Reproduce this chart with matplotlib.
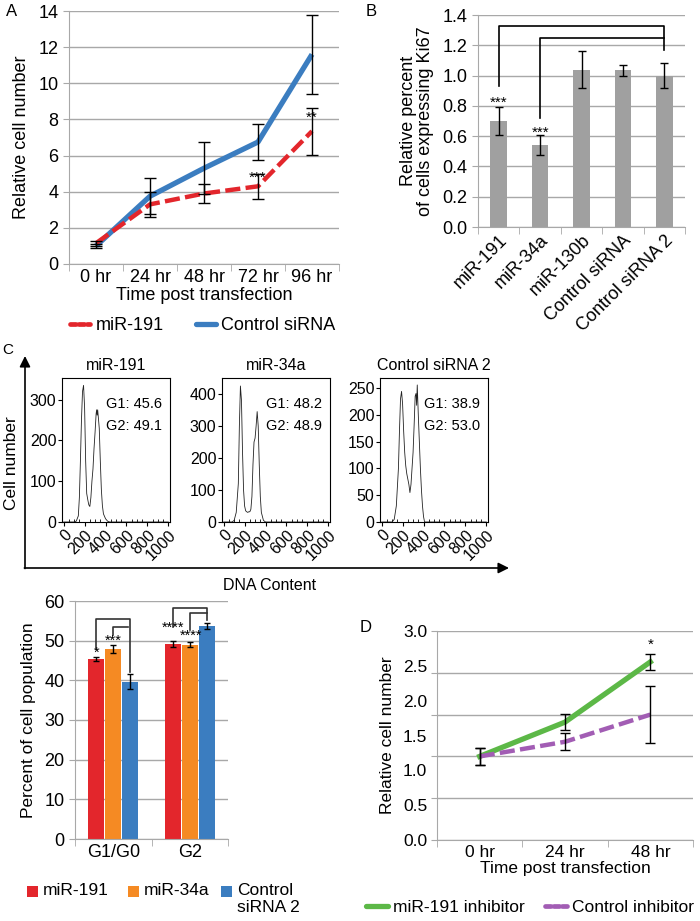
import matplotlib
matplotlib.use('Agg')
import matplotlib.pyplot as plt
import numpy as np
from matplotlib.lines import Line2D
from matplotlib.patches import Rectangle

plt.rcParams['font.family'] = ['Liberation Sans', 'DejaVu Sans']

# ---------------- data ----------------
# Panel A
timesA = ['0 hr', '24 hr', '48 hr', '72 hr', '96 hr']
a_mir191 = [1.15, 3.3, 3.9, 4.3, 7.35]
a_mir191_err = [0.15, 0.7, 0.55, 0.7, 1.3]
a_ctrl = [1.0, 3.75, 5.3, 6.75, 11.6]
a_ctrl_err = [0.1, 1.0, 1.45, 1.0, 2.2]
a_stars = ['', '', '', '***', '**']
a_star_y = [0, 0, 0, 4.75, 8.1]

# Panel B
catsB = ['miR-191', 'miR-34a', 'miR-130b', 'Control siRNA', 'Control siRNA 2']
b_vals = [0.70, 0.54, 1.04, 1.035, 1.0]
b_err = [0.09, 0.065, 0.12, 0.035, 0.085]

# Panel C histograms (DNA content, cell number)
h1_x = [0, 100, 120, 140, 150, 160, 170, 180, 190, 200, 210, 220, 230, 240, 250, 260, 270, 280,
        290, 300, 310, 315, 320, 325, 330, 340, 350, 360, 370, 380, 400, 420, 440, 1000]
h1_y = [0, 0, 2, 15, 60, 150, 250, 320, 335, 280, 150, 70, 55, 42, 38, 60, 100, 130,
        180, 220, 265, 275, 262, 275, 260, 230, 150, 80, 40, 20, 8, 2, 0, 0]
h2_x = [0, 80, 100, 120, 140, 150, 160, 170, 180, 190, 200, 210, 220, 230, 240, 250, 260, 270,
        280, 290, 300, 310, 320, 330, 340, 350, 360, 380, 400, 1000]
h2_y = [0, 0, 5, 30, 120, 300, 425, 380, 220, 100, 50, 35, 32, 30, 32, 32, 40, 80,
        180, 250, 262, 300, 345, 300, 180, 80, 30, 5, 0, 0]
h3_x = [0, 100, 120, 140, 160, 170, 180, 190, 200, 210, 220, 230, 240, 250, 260, 270, 280, 290,
        300, 310, 320, 328, 334, 340, 350, 360, 370, 380, 390, 400, 410, 1000]
h3_y = [0, 0, 5, 30, 100, 170, 230, 244, 220, 170, 130, 105, 90, 80, 70, 55, 70, 100,
        130, 180, 235, 240, 218, 256, 200, 150, 100, 60, 30, 10, 0, 0]
hist_titles = ['miR-191', 'miR-34a', 'Control siRNA 2']
hist_g1 = ['G1: 45.6', 'G1: 48.2', 'G1: 38.9']
hist_g2 = ['G2: 49.1', 'G2: 48.9', 'G2: 53.0']
hist_ymax = [353, 450, 269]
hist_yticks = [[0, 100, 200, 300], [0, 100, 200, 300, 400], [0, 50, 100, 150, 200, 250]]

# Cell cycle bar chart
catsC = ['G1/G0', 'G2']
c_mir191 = [45.4, 49.2]
c_mir191_err = [0.4, 0.8]
c_mir34a = [47.8, 49.0]
c_mir34a_err = [1.0, 0.7]
c_ctrl = [39.6, 53.7]
c_ctrl_err = [1.9, 0.8]

# Panel D
timesD = ['0 hr', '24 hr', '48 hr']
d_inh = [1.0, 1.41, 2.13]
d_inh_err = [0.1, 0.1, 0.1]
d_ctrl = [1.0, 1.175, 1.5]
d_ctrl_err = [0.1, 0.1, 0.34]
d_ylabels = ['0.0', '0.5', '1.0', '1.5', '2.0', '2.5', '3.0']

# ---------------- figure ----------------
W, H = 700, 921
fig = plt.figure(figsize=(7, 9.21), dpi=100)


def add_ax(l, t, r, b):
    return fig.add_axes([l / W, 1 - b / H, (r - l) / W, (b - t) / H])


GRID = '#a8a8a8'
RED = '#e3262c'
BLUE = '#3b7dc0'
ORANGE = '#f58a23'
GREEN = '#5cb847'
PURPLE = '#a25db4'
FS = 13


def excel_style(ax):
    for s in ['top', 'right']:
        ax.spines[s].set_visible(False)
    ax.spines['left'].set_color(GRID)
    ax.spines['bottom'].set_color(GRID)
    ax.yaxis.grid(True, color=GRID, lw=1)
    ax.set_axisbelow(True)
    ax.tick_params(axis='y', colors=GRID, labelcolor='black', length=4, labelsize=FS)
    ax.tick_params(axis='x', which='major', length=0, labelsize=FS)
    ax.tick_params(axis='x', which='minor', colors=GRID, length=5)


# overlay for letters/arrows
axO = fig.add_axes([0, 0, 1, 1])
axO.set_xlim(0, W)
axO.set_ylim(H, 0)
axO.axis('off')

# ---- Panel A ----
axA = add_ax(69, 11, 339, 264)
excel_style(axA)
xA = np.arange(len(timesA))
axA.plot(xA, a_ctrl, color=BLUE, lw=3.8, zorder=3, solid_capstyle='butt')
axA.plot(xA, a_mir191, color=RED, lw=3.2, dashes=(3.4, 1.2), zorder=3)
axA.errorbar(xA, a_ctrl, yerr=a_ctrl_err, fmt='none', ecolor='black', elinewidth=1, capsize=4, capthick=1, zorder=4)
axA.errorbar(xA, a_mir191, yerr=a_mir191_err, fmt='none', ecolor='black', elinewidth=1, capsize=4, capthick=1, zorder=4)
for xi, s, yy in zip(xA, a_stars, a_star_y):
    if s:
        axA.text(xi, yy, s, ha='center', va='center', fontsize=11)
axA.set_xlim(-0.5, 4.5)
axA.set_ylim(0, 14)
axA.set_yticks(np.arange(0, 15, 2))
axA.set_xticks(xA)
axA.set_xticklabels(timesA)
axA.set_xticks(np.arange(-0.5, 5, 1), minor=True)
axA.set_xlabel('Time post transfection', fontsize=FS, labelpad=1)
axA.set_ylabel('Relative cell number', fontsize=FS, labelpad=6)
hA = [Line2D([], [], color=RED, lw=3.4, dashes=(1.2, 0.6), solid_capstyle='round', dash_capstyle='round'),
      Line2D([], [], color=BLUE, lw=3.8, solid_capstyle='round')]
fig.legend(hA, ['miR-191', 'Control siRNA'], loc='center', bbox_to_anchor=(203 / W, 1 - 326 / H),
           ncol=2, frameon=False, fontsize=FS, handlelength=1.1, handletextpad=0.3, columnspacing=1.8,
           borderpad=0, borderaxespad=0)

# ---- Panel B ----
axB = add_ax(478, 15, 685, 227)
excel_style(axB)
xB = np.arange(len(catsB))
axB.bar(xB, b_vals, width=0.4, color='#a0a0a0', zorder=2)
axB.errorbar(xB, b_vals, yerr=b_err, fmt='none', ecolor='black', elinewidth=1, capsize=3, capthick=1, zorder=3)
axB.set_xlim(-0.5, 4.5)
axB.set_ylim(0, 1.4)
axB.set_yticks(np.arange(0, 1.41, 0.2))
axB.set_yticklabels([f'{v:.1f}' for v in np.arange(0, 1.41, 0.2)])
axB.set_xticks(xB)
axB.set_xticklabels(catsB, rotation=45, ha='right', rotation_mode='anchor')
axB.set_xticks(np.arange(-0.5, 5, 1), minor=True)
axB.set_ylabel('Relative percent\nof cells expressing Ki67', fontsize=FS, labelpad=6, linespacing=1.0)
# brackets
axB.plot([0, 0, 4, 4], [0.93, 1.33, 1.33, 1.17], color='black', lw=1.2, clip_on=False)
axB.plot([1, 1, 4], [0.72, 1.246, 1.246], color='black', lw=1.2, clip_on=False)
axB.text(0, 0.82, '***', ha='center', va='center', fontsize=11)
axB.text(1, 0.625, '***', ha='center', va='center', fontsize=11)

# ---- Panel C histograms ----
hx = [h1_x, h2_x, h3_x]
hy = [h1_y, h2_y, h3_y]
lefts = [62, 222, 380]
for i in range(3):
    ax = add_ax(lefts[i], 378, lefts[i] + 108, 522)
    ax.plot(hx[i], hy[i], color='#222222', lw=0.6)
    ax.set_xlim(-16, 1016)
    ax.set_ylim(0, hist_ymax[i])
    ax.set_xticks(np.arange(0, 1001, 200))
    ax.set_xticks(np.arange(0, 1001, 50), minor=True)
    ax.set_yticks(hist_yticks[i])
    ax.set_xticklabels([str(v) for v in range(0, 1001, 200)], rotation=45, ha='right', rotation_mode='anchor')
    ax.tick_params(axis='both', which='major', direction='out', length=3, labelsize=11.5, pad=1)
    ax.tick_params(axis='x', which='minor', direction='in', length=2)
    for s in ax.spines.values():
        s.set_linewidth(0.8)
    ax.set_title(hist_titles[i], fontsize=11.5, pad=6)
    ax.text(0.93, 0.82, hist_g1[i], transform=ax.transAxes, ha='right', va='center', fontsize=10.5)
    ax.text(0.93, 0.67, hist_g2[i], transform=ax.transAxes, ha='right', va='center', fontsize=10.5)

axO.annotate('', xy=(25, 356), xytext=(25, 568.5),
             arrowprops=dict(arrowstyle='-|>', color='black', lw=1.2, mutation_scale=16, shrinkA=0, shrinkB=0))
axO.annotate('', xy=(509, 568), xytext=(24.4, 568),
             arrowprops=dict(arrowstyle='-|>', color='black', lw=1.2, mutation_scale=16, shrinkA=0, shrinkB=0))
axO.text(12, 463, 'Cell number', rotation=90, ha='center', va='center', fontsize=12.5)
axO.text(270, 585, 'DNA Content', ha='center', va='center', fontsize=11.5)

# ---- Cell-cycle bar chart ----
axC = add_ax(75, 601, 228, 839)
excel_style(axC)
xC = np.arange(len(catsC))
off = 0.222
bw = 0.215
axC.bar(xC - off, c_mir191, width=bw, color=RED, zorder=2)
axC.bar(xC, c_mir34a, width=bw, color=ORANGE, zorder=2)
axC.bar(xC + off, c_ctrl, width=bw, color=BLUE, zorder=2)
axC.errorbar(xC - off, c_mir191, yerr=c_mir191_err, fmt='none', ecolor='black', elinewidth=1, capsize=2.5, capthick=1, zorder=3)
axC.errorbar(xC, c_mir34a, yerr=c_mir34a_err, fmt='none', ecolor='black', elinewidth=1, capsize=2.5, capthick=1, zorder=3)
axC.errorbar(xC + off, c_ctrl, yerr=c_ctrl_err, fmt='none', ecolor='black', elinewidth=1, capsize=2.5, capthick=1, zorder=3)
axC.set_xlim(-0.5, 1.5)
axC.set_ylim(0, 60)
axC.set_yticks(np.arange(0, 61, 10))
axC.set_xticks(xC)
axC.set_xticklabels(catsC)
axC.set_xticks([-0.5, 0.5, 1.5], minor=True)
axC.set_ylabel('Percent of cell population', fontsize=12.5, labelpad=6)
bk = dict(color='#333333', lw=1.2, clip_on=False)
axC.plot([-off, -off, off, off], [48.0, 55.4, 55.4, 42.0], **bk)
axC.plot([0, 0, off - 0.03], [51.4, 53.5, 53.5], **bk)
axC.plot([1 - off, 1 - off, 1 + off, 1 + off], [53.5, 58.3, 58.3, 55.3], **bk)
axC.plot([1, 1, 1 + off], [52.7, 56.9, 56.9], **bk)
axC.text(-off, 47.0, '*', ha='center', va='center', fontsize=10.5)
axC.text(0, 50.0, '***', ha='center', va='center', fontsize=10.5)
axC.text(1 - off, 53.3, '****', ha='center', va='center', fontsize=10.5)
axC.text(1 + 0.02, 51.2, '****', ha='center', va='center', fontsize=10.5)

# manual legend for bar chart
leg_items = [(27, RED, 'miR-191'), (128, ORANGE, 'miR-34a'), (221, BLUE, 'Control\nsiRNA 2')]
for lx, col, lab in leg_items:
    axO.add_patch(Rectangle((lx, 885.5), 10.5, 11, color=col, lw=0))
    axO.text(lx + 16, 883, lab, ha='left', va='top', fontsize=12.5, linespacing=1.2)

# ---- Panel D ----
axD = add_ax(437, 631, 693, 840)
excel_style(axD)
xD = np.arange(len(timesD))
axD.plot(xD, d_inh, color=GREEN, lw=3.8, zorder=3)
axD.plot(xD, d_ctrl, color=PURPLE, lw=3.2, dashes=(3.4, 1.2), zorder=3)
axD.errorbar(xD, d_inh, yerr=d_inh_err, fmt='none', ecolor='black', elinewidth=1, capsize=3.5, capthick=1, zorder=4)
axD.errorbar(xD, d_ctrl, yerr=d_ctrl_err, fmt='none', ecolor='black', elinewidth=1, capsize=3.5, capthick=1, zorder=4)
axD.text(2, 2.33, '*', ha='center', va='center', fontsize=11)
axD.set_xlim(-0.5, 2.5)
axD.set_ylim(0, 2.5)
axD.yaxis.remove_overlapping_locs = False
axD.set_yticks(np.arange(0, 2.51, 0.5))
axD.set_yticklabels([])
axD.set_yticks(np.linspace(0, 2.5, 7), minor=True)
axD.set_yticklabels(d_ylabels, minor=True)
axD.tick_params(axis='y', which='minor', length=0, labelsize=12.5, pad=7)
axD.set_xticks(xD)
axD.set_xticklabels(timesD)
axD.tick_params(axis='x', which='major', labelsize=12.5)
axD.set_xticks(np.arange(-0.5, 3, 1), minor=True)
axD.set_xlabel('Time post transfection', fontsize=12.5, labelpad=1)
axD.set_ylabel('Relative cell number', fontsize=12.5, labelpad=6)
hD = [Line2D([], [], color=GREEN, lw=3.8, solid_capstyle='round'),
      Line2D([], [], color=PURPLE, lw=3.4, dashes=(1.2, 0.6), dash_capstyle='round')]
fig.legend(hD, ['miR-191 inhibitor', 'Control inhibitor'], loc='center', bbox_to_anchor=(530 / W, 1 - 907 / H),
           ncol=2, frameon=False, fontsize=12.5, handlelength=1.25, handletextpad=0.3, columnspacing=1.2,
           borderpad=0, borderaxespad=0)

# panel letters
axO.text(12, 12, 'A', ha='center', va='center', fontsize=12)
axO.text(371, 12, 'B', ha='center', va='center', fontsize=12)
axO.text(8, 350, 'C', ha='center', va='center', fontsize=11)
axO.text(366, 627, 'D', ha='center', va='center', fontsize=12)

fig.savefig('out.png', dpi=100)
